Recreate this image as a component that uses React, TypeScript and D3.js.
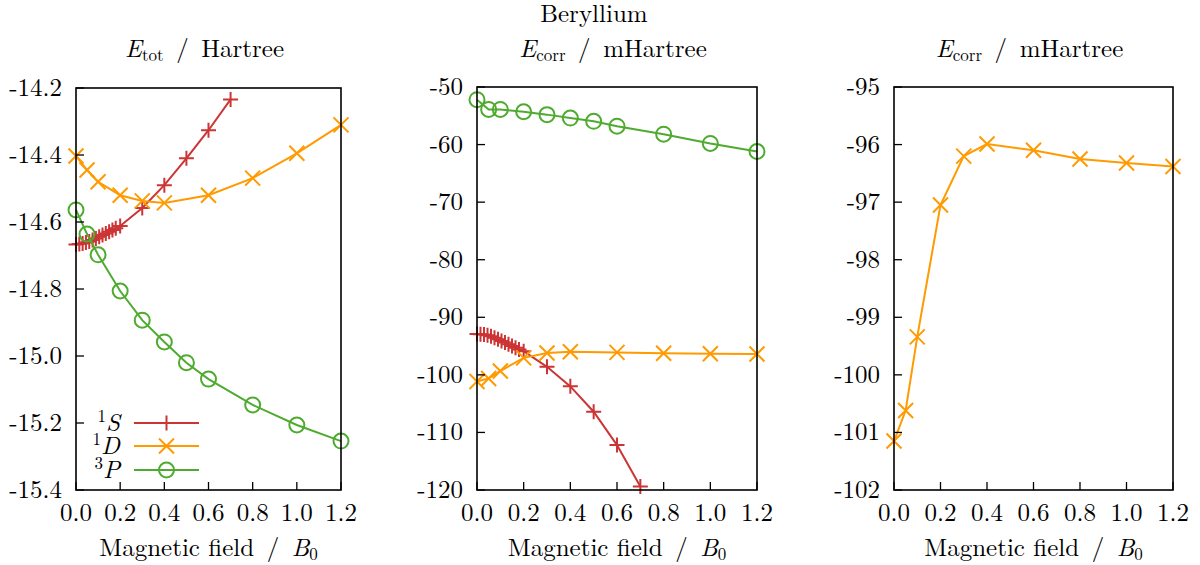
import React from "react";
import * as d3 from "d3";

// ---------- data ----------
const xTicks = [0, 0.2, 0.4, 0.6, 0.8, 1.0, 1.2];
const yTicksTot = [-14.2, -14.4, -14.6, -14.8, -15.0, -15.2, -15.4];
const yTicksCorr = [-50, -60, -70, -80, -90, -100, -110, -120];
const yTicksCorrD = [-95, -96, -97, -98, -99, -100, -101, -102];

const xS = [0, 0.015, 0.03, 0.045, 0.06, 0.075, 0.09, 0.105, 0.12, 0.135, 0.15, 0.165, 0.18, 0.2, 0.3, 0.4, 0.5, 0.6, 0.7];
const totS = [-14.667, -14.666, -14.664, -14.661, -14.658, -14.654, -14.649, -14.644, -14.639, -14.634, -14.629, -14.624, -14.619, -14.612, -14.558, -14.49, -14.41, -14.326, -14.234];
const corrS = [-92.9, -92.95, -93.0, -93.1, -93.3, -93.55, -93.8, -94.1, -94.4, -94.7, -95.0, -95.3, -95.6, -95.9, -98.6, -102.0, -106.4, -112.2, -119.4];

const xD = [0, 0.05, 0.1, 0.2, 0.3, 0.4, 0.6, 0.8, 1.0, 1.2];
const totD = [-14.403, -14.445, -14.48, -14.52, -14.537, -14.543, -14.52, -14.469, -14.395, -14.31];
const corrD = [-101.15, -100.62, -99.34, -97.05, -96.2, -95.99, -96.1, -96.25, -96.32, -96.38];

const xP = [0, 0.05, 0.1, 0.2, 0.3, 0.4, 0.5, 0.6, 0.8, 1.0, 1.2];
const totP = [-14.564, -14.636, -14.698, -14.806, -14.893, -14.958, -15.02, -15.069, -15.146, -15.206, -15.254];
const corrP = [-52.2, -53.9, -53.9, -54.3, -54.8, -55.4, -55.96, -56.8, -58.2, -59.8, -61.2];

const COLORS = { S: "#cc3535", D: "#ff9a00", P: "#4fab30" };
const FONT = "Latin Modern Roman";
const FS = 25;
const SUB = 17;

type Series = { xs: number[]; ys: number[]; color: string; marker: "plus" | "cross" | "circle" };

function Marker({ type, x, y, color }: { type: string; x: number; y: number; color: string }) {
  const s = 7.5;
  if (type === "plus")
    return <path d={`M${x - s},${y}H${x + s}M${x},${y - s}V${y + s}`} stroke={color} strokeWidth={2} fill="none" />;
  if (type === "cross")
    return <path d={`M${x - s},${y - s}L${x + s},${y + s}M${x - s},${y + s}L${x + s},${y - s}`} stroke={color} strokeWidth={2} fill="none" />;
  return <circle cx={x} cy={y} r={7.5} stroke={color} strokeWidth={2} fill="none" />;
}

function Panel({ x0, x1, y0, y1, yDomain, yTicks, fmt, series, title }: {
  x0: number; x1: number; y0: number; y1: number; yDomain: [number, number]; yTicks: number[];
  fmt: (v: number) => string; series: Series[]; title: React.ReactNode;
}) {
  const xs = d3.scaleLinear().domain([0, 1.2]).range([x0, x1]);
  const ys = d3.scaleLinear().domain(yDomain).range([y0, y1]);
  const line = d3.line<[number, number]>().x((d) => xs(d[0])).y((d) => ys(d[1]));
  const cx = (x0 + x1) / 2;
  return (
    <g>
      <text x={cx - 4} y={57} textAnchor="middle" fontSize={FS} fontFamily={FONT}>{title}</text>
      {series.map((s, i) => {
        const pts = s.xs.map((x, j) => [x, s.ys[j]] as [number, number]);
        return (
          <g key={i}>
            <path d={line(pts) || ""} stroke={s.color} strokeWidth={2} fill="none" />
            {pts.map((p, j) => (
              <Marker key={j} type={s.marker} x={xs(p[0])} y={ys(p[1])} color={s.color} />
            ))}
          </g>
        );
      })}
      <rect x={x0} y={y0} width={x1 - x0} height={y1 - y0} fill="none" stroke="#000" strokeWidth={1.6} />
      {xTicks.map((t, i) => (
        <g key={"x" + i}>
          <line x1={xs(t)} x2={xs(t)} y1={y1} y2={y1 - 8} stroke="#000" strokeWidth={1.3} />
          <text x={xs(t)} y={521} textAnchor="middle" fontSize={FS} fontFamily={FONT}>{t.toFixed(1)}</text>
        </g>
      ))}
      {yTicks.map((t, i) => (
        <g key={"y" + i}>
          <line x1={x0} x2={x0 + 8} y1={ys(t)} y2={ys(t)} stroke="#000" strokeWidth={1.3} />
          <text x={x0 - 14} y={ys(t) + 8} textAnchor="end" fontSize={FS} fontFamily={FONT}>{fmt(t)}</text>
        </g>
      ))}
      <text x={cx} y={556} textAnchor="middle" fontSize={FS} fontFamily={FONT}>
        Magnetic field{"\u2002"}/{"\u2002"}<tspan fontStyle="italic">B</tspan>
        <tspan fontSize={SUB} dy={4}>0</tspan>
      </text>
    </g>
  );
}

function LegendItem({ y, sup, label, color, marker }: { y: number; sup: string; label: string; color: string; marker: string }) {
  return (
    <g>
      <text x={120} y={y + 8} textAnchor="end" fontSize={FS} fontFamily={FONT}>
        <tspan fontSize={SUB} dy={-9}>{sup}</tspan>
        <tspan fontStyle="italic" dy={9}>{label}</tspan>
      </text>
      <line x1={134} x2={199} y1={y} y2={y} stroke={color} strokeWidth={2} />
      <Marker type={marker} x={166.5} y={y} color={color} />
    </g>
  );
}

export default function App() {
  const fmtTot = (v: number) => (v < 0 ? "-" : "") + Math.abs(v).toFixed(1);
  const fmtInt = (v: number) => (v < 0 ? "-" : "") + Math.abs(v).toFixed(0);
  const titleTot = (
    <>
      <tspan fontStyle="italic">E</tspan>
      <tspan fontSize={SUB} dy={4}>tot</tspan>
      <tspan dy={-4}>{"\u2002"}/{"\u2002"}Hartree</tspan>
    </>
  );
  const titleCorr = (
    <>
      <tspan fontStyle="italic">E</tspan>
      <tspan fontSize={SUB} dy={4}>corr</tspan>
      <tspan dy={-4}>{"\u2002"}/{"\u2002"}mHartree</tspan>
    </>
  );
  return (
    <div style={{ position: "absolute", left: 0, top: 0 }}>
      <svg width={1200} height={565} style={{ display: "block", background: "#fff" }}>
        <text x={594} y={22} textAnchor="middle" fontSize={FS} fontFamily={FONT}>Beryllium</text>
        <Panel
          x0={76} x1={341} y0={88} y1={490} yDomain={[-14.2, -15.4]} yTicks={yTicksTot} fmt={fmtTot}
          title={titleTot}
          series={[
            { xs: xS, ys: totS, color: COLORS.S, marker: "plus" },
            { xs: xD, ys: totD, color: COLORS.D, marker: "cross" },
            { xs: xP, ys: totP, color: COLORS.P, marker: "circle" },
          ]}
        />
        <Panel
          x0={477} x1={757} y0={87} y1={490} yDomain={[-50, -120]} yTicks={yTicksCorr} fmt={fmtInt}
          title={titleCorr}
          series={[
            { xs: xS, ys: corrS, color: COLORS.S, marker: "plus" },
            { xs: xD, ys: corrD, color: COLORS.D, marker: "cross" },
            { xs: xP, ys: corrP, color: COLORS.P, marker: "circle" },
          ]}
        />
        <Panel
          x0={894} x1={1173} y0={87} y1={490} yDomain={[-95, -102]} yTicks={yTicksCorrD} fmt={fmtInt}
          title={titleCorr}
          series={[{ xs: xD, ys: corrD, color: COLORS.D, marker: "cross" }]}
        />
        <LegendItem y={423} sup="1" label="S" color={COLORS.S} marker="plus" />
        <LegendItem y={446} sup="1" label="D" color={COLORS.D} marker="cross" />
        <LegendItem y={470} sup="3" label="P" color={COLORS.P} marker="circle" />
      </svg>
    </div>
  );
}
